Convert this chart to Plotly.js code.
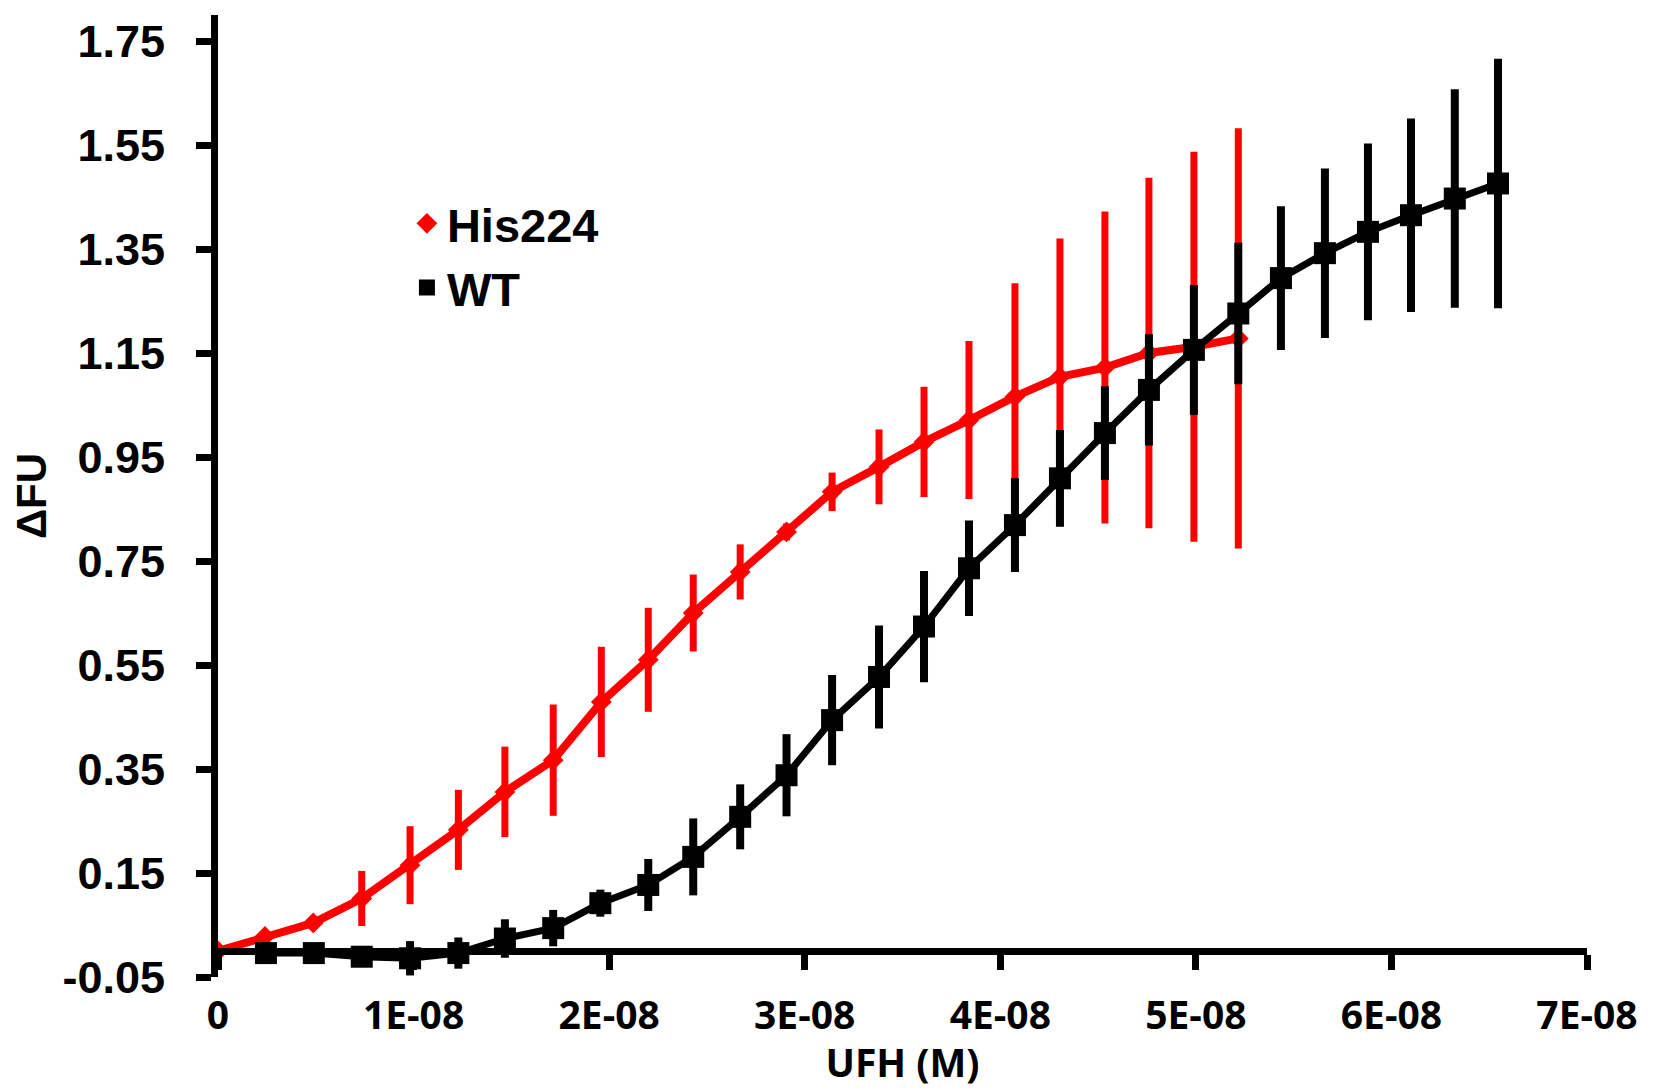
<!DOCTYPE html>
<html>
<head>
<meta charset="utf-8">
<script src="https://cdn.plot.ly/plotly-3.0.1.min.js"></script>
<style>html,body{margin:0;padding:0;background:#fff;}#chart{width:1653px;height:1088px;}</style>
</head>
<body>
<div id="chart"></div>
<script>
// His224 series
const hisX = [0, 2.40e-9, 4.87e-9, 7.35e-9, 9.82e-9, 12.29e-9, 14.67e-9, 17.14e-9, 19.6e-9, 22.0e-9, 24.3e-9, 26.7e-9, 29.07e-9, 31.4e-9, 33.8e-9, 36.1e-9, 38.4e-9, 40.75e-9, 43.05e-9, 45.35e-9, 47.6e-9, 49.9e-9, 52.17e-9];
const hisY = [0, 0.028, 0.054, 0.101, 0.165, 0.233, 0.306, 0.367, 0.479, 0.56, 0.65, 0.729, 0.806, 0.883, 0.931, 0.979, 1.021, 1.066, 1.104, 1.122, 1.15, 1.162, 1.178];
const hisErr = [0, 0.01, 0.01, 0.053, 0.075, 0.077, 0.087, 0.107, 0.106, 0.10, 0.074, 0.053, 0.016, 0.037, 0.072, 0.106, 0.152, 0.218, 0.266, 0.30, 0.337, 0.375, 0.404];

// WT series
const wtX = [2.45e-9, 4.9e-9, 7.35e-9, 9.82e-9, 12.29e-9, 14.67e-9, 17.14e-9, 19.55e-9, 22.0e-9, 24.3e-9, 26.7e-9, 29.07e-9, 31.4e-9, 33.8e-9, 36.1e-9, 38.4e-9, 40.75e-9, 43.05e-9, 45.35e-9, 47.6e-9, 49.9e-9, 52.17e-9, 54.35e-9, 56.6e-9, 58.8e-9, 61.0e-9, 63.24e-9, 65.45e-9];
const wtY = [-0.004, -0.004, -0.011, -0.014, -0.004, 0.024, 0.044, 0.092, 0.127, 0.181, 0.258, 0.338, 0.444, 0.527, 0.624, 0.736, 0.819, 0.909, 0.996, 1.079, 1.156, 1.226, 1.294, 1.342, 1.383, 1.415, 1.447, 1.476];
const wtErr = [0.01, 0.01, 0.01, 0.033, 0.03, 0.037, 0.035, 0.026, 0.05, 0.074, 0.0625, 0.079, 0.087, 0.099, 0.107, 0.092, 0.09, 0.093, 0.09, 0.107, 0.125, 0.136, 0.138, 0.163, 0.17, 0.186, 0.21, 0.24];

// Tick labels
const xTickVals = [0, 1e-8, 2e-8, 3e-8, 4e-8, 5e-8, 6e-8, 7e-8];
const xTickText = ['0', '1E-08', '2E-08', '3E-08', '4E-08', '5E-08', '6E-08', '7E-08'];
const yTickVals = [-0.05, 0.15, 0.35, 0.55, 0.75, 0.95, 1.15, 1.35, 1.55, 1.75];
const yTickText = ['-0.05', '0.15', '0.35', '0.55', '0.75', '0.95', '1.15', '1.35', '1.55', '1.75'];

const seriesNames = ['His224', 'WT'];

const RED = '#ff0000', BLACK = '#000000';
const redMarker = {symbol: 'diamond', size: 16, color: RED};
const blackMarker = {symbol: 'square', size: 22, color: BLACK};

const traces = [
  {
    x: hisX, y: hisY, type: 'scatter', mode: 'lines+markers', name: seriesNames[0],
    showlegend: false,
    line: {color: RED, width: 8},
    marker: redMarker,
    error_y: {type: 'data', array: hisErr, visible: true, color: RED, thickness: 7, width: 0}
  },
  {
    x: wtX, y: wtY, type: 'scatter', mode: 'lines+markers', name: seriesNames[1],
    showlegend: false,
    line: {color: BLACK, width: 7},
    marker: blackMarker,
    error_y: {type: 'data', array: wtErr, visible: true, color: BLACK, thickness: 8, width: 0}
  },
  // legend entries (marker only, as in the reference legend)
  {x: [null], y: [null], type: 'scatter', mode: 'markers', name: seriesNames[0], marker: redMarker, showlegend: true},
  {x: [null], y: [null], type: 'scatter', mode: 'markers', name: seriesNames[1], marker: blackMarker, showlegend: true}
];

const yMin = -0.05, yMax = 1.8;

const layout = {
  width: 1653, height: 1088,
  margin: {l: 218, r: 66, t: 15, b: 111, pad: 0},
  paper_bgcolor: '#ffffff', plot_bgcolor: '#ffffff',
  showlegend: true,
  legend: {
    x: 0.138, y: 0.822, xanchor: 'left', yanchor: 'top',
    bgcolor: 'rgba(0,0,0,0)', borderwidth: 0, itemwidth: 30, tracegroupgap: 0,
    font: {family: 'Liberation Sans, Arial, sans-serif', size: 47, weight: 700, color: '#000'}
  },
  xaxis: {
    range: [0, 7e-8],
    anchor: 'free', position: (0 - yMin) / (yMax - yMin),
    showline: true, linewidth: 7, linecolor: '#000',
    ticks: 'outside', ticklen: 15, tickwidth: 7, tickcolor: '#000',
    tickmode: 'array', tickvals: xTickVals, ticktext: xTickText,
    tickfont: {family: 'Open Sans, sans-serif', size: 39, weight: 700, color: '#000'},
    ticklabelstandoff: 12,
    showgrid: false, zeroline: false, automargin: false,
    title: {text: 'UFH (M)', standoff: 10, font: {family: 'Open Sans, sans-serif', size: 39, weight: 700, color: '#000'}}
  },
  yaxis: {
    range: [yMin, yMax],
    showline: true, linewidth: 7, linecolor: '#000',
    ticks: 'outside', ticklen: 15, tickwidth: 7, tickcolor: '#000',
    tickmode: 'array', tickvals: yTickVals, ticktext: yTickText,
    tickfont: {family: 'Liberation Sans, Arial, sans-serif', size: 45, weight: 700, color: '#000'},
    ticklabelstandoff: 22,
    showgrid: false, zeroline: false, automargin: false,
    title: {text: 'ΔFU', standoff: 5, font: {family: 'Liberation Sans, Arial, sans-serif', size: 42, weight: 700, color: '#000'}}
  }
};

Plotly.newPlot('chart', traces, layout, {staticPlot: true, displayModeBar: false});
</script>
</body>
</html>
